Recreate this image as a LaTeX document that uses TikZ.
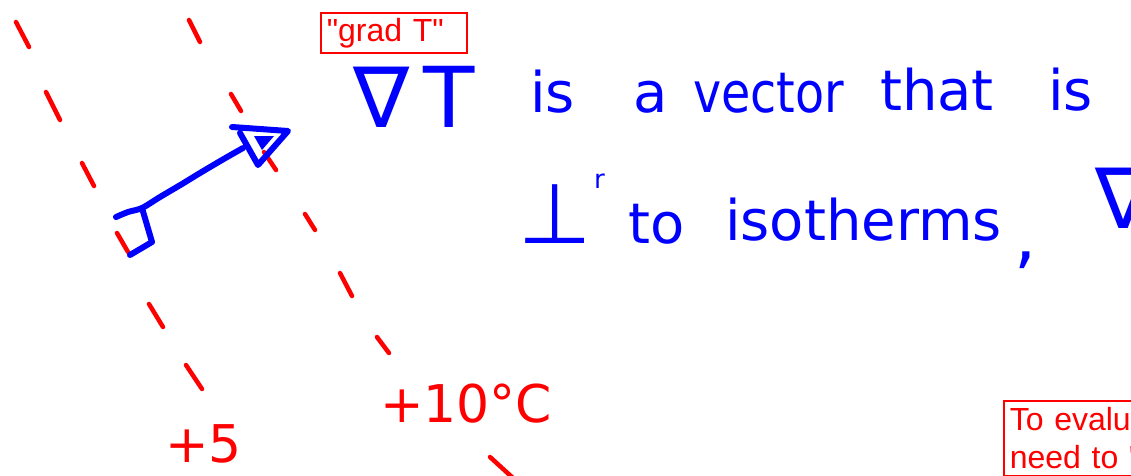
\documentclass[tikz,border=0pt]{standalone}
\usepackage{fontspec}
\usepackage{xcolor}
\usepackage{tikz}
\newfontfamily\handfont{DejaVu Sans}
\newfontfamily\boxfont{Liberation Sans}
\definecolor{penblue}{RGB}{0,0,255}
\definecolor{penred}{RGB}{255,0,0}
\tikzset{
  hand/.style={text=penblue, inner sep=0pt, anchor=base west, font=\handfont\fontsize{56}{60}\selectfont},
  bighand/.style={hand, font=\handfont\fontsize{84}{88}\selectfont},
  redhand/.style={hand, text=penred, font=\handfont\fontsize{52}{56}\selectfont},
  pen/.style={draw=penblue, line width=6pt, line cap=round, line join=round},
  isodash/.style={draw=penred, line width=4.5pt, line cap=round},
  callout/.style={draw=penred, line width=1.6pt, text=penred, anchor=north west, align=left}
}

\begin{document}
\begin{tikzpicture}[x=1pt, y=-1pt]
  \useasboundingbox (0,0) rectangle (1131,475);
  \clip (0,0) rectangle (1131,475);

  % isotherms, drawn as hand dashes
  \foreach \xa/\ya/\xb/\yb in {16/22/29/47, 46/92/60/120, 82/163/94/186,
      117/233/128/252, 149/304/163/327, 186/365/202/389}
    \draw[isodash] (\xa,\ya) -- (\xb,\yb);
  \foreach \xa/\ya/\xb/\yb in {189/20/200/42, 231/94/241/111, 264/152/276/170,
      305/214/315/230, 340/273/352/296, 377/337/389/353, 490/457/513/478}
    \draw[isodash] (\xa,\ya) -- (\xb,\yb);

  % temperature labels
  \node[redhand] (tten) at (380,422) {+10°C};
  \node[redhand] (tfive) at (165,462) {+5};

  % gradient vector with its right-angle mark
  \coordinate (tail) at (116,217);
  \coordinate (tip)  at (243,148);
  \draw[pen] plot[smooth] coordinates {(tail) (128,212) (142,208) (160,197)
      (182,184) (200,173) (222,160) (tip)};
  \draw[pen] (232,127) -- (288,131) -- (258,165) -- (240,133);
  \fill[penblue] (254,136) -- (274,136) -- (262,150) -- cycle;
  \draw[pen] (142,208) -- (147,225) -- (152,242) -- (130,255);

  % handwritten words
  \node[bighand] (nabla) at (353,127) {∇\hspace{14pt}T};
  \node[hand] (w1) at (530,112) {is};
  \node[hand] (w2) at (633,112) {a};
  \node[hand, xscale=0.85] (w3) at (693,112) {vector};
  \node[hand] (w4) at (880,110) {that};
  \node[hand] (w5) at (1048,110) {is};
  \node[bighand] (perp) at (518,243) {⊥};
  \node[hand, font=\handfont\fontsize{26}{28}\selectfont] (perpr) at (594,188) {r};
  \node[hand] (w6) at (628,243) {to};
  \node[hand] (w7) at (725,240) {isotherms};
  \node[hand, font=\handfont\fontsize{70}{74}\selectfont] (comma) at (1014,260) {,};
  \node[bighand] (nablb) at (1095,228) {∇};

  % typed callouts
  \node[callout, font=\boxfont\fontsize{32}{36}\selectfont, minimum width=146pt,
        minimum height=40pt, text width=134pt, inner xsep=5pt] (gradbox) at (320,12) {"grad T"};
  \node[callout, font=\boxfont\fontsize{32}{37}\selectfont, text width=200pt,
        inner xsep=6pt, inner ysep=7pt] (evalbox) at (1003,400) {To evalu\\need to '};
\end{tikzpicture}
\end{document}
